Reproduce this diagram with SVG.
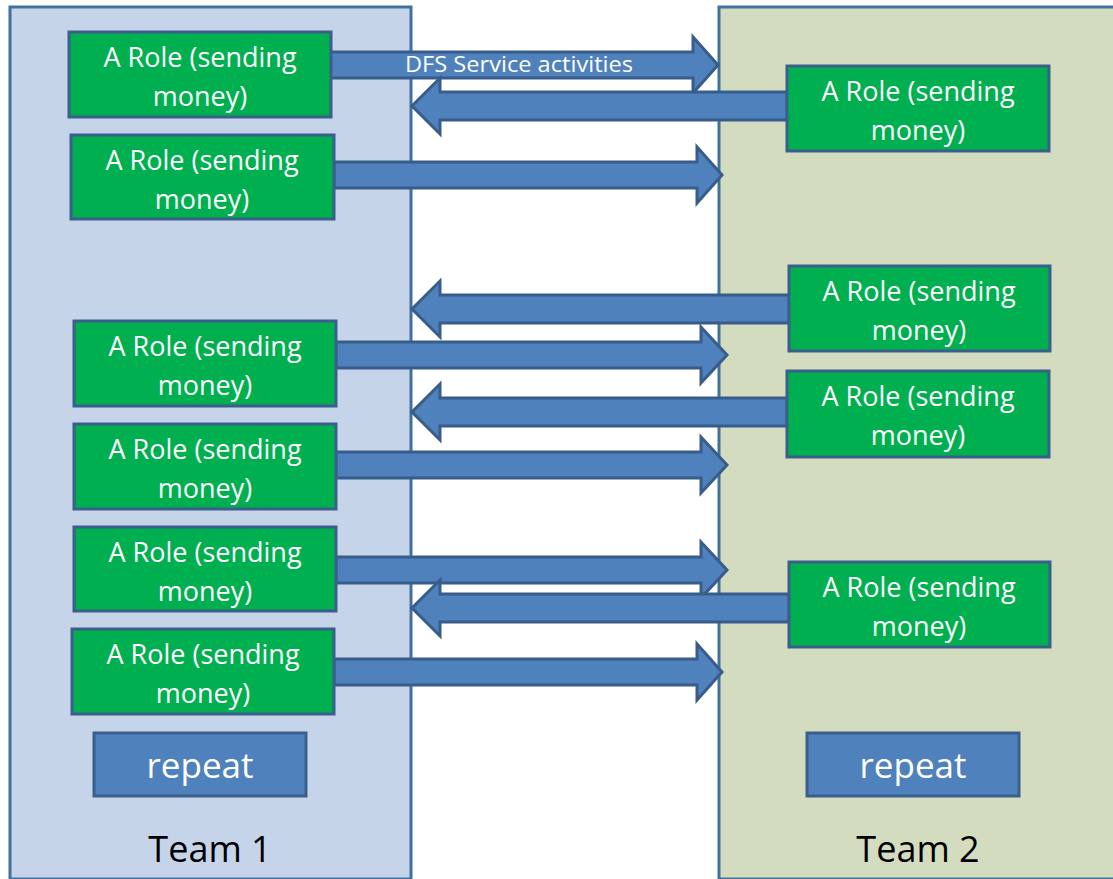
<svg xmlns="http://www.w3.org/2000/svg" width="1113" height="879" viewBox="0 0 1113 879">
<style>
.panel{stroke:#41719c;stroke-width:3}
.p1{fill:#c5d4e8}
.p2{fill:#d4dcbf}
.role rect{fill:#00b050;stroke:#3a5f8b;stroke-width:3}
.role text,.rep text{font-family:"Open Sans","Liberation Sans",sans-serif;fill:#ffffff;text-anchor:middle}
.role text{font-size:27px}
.rep rect{fill:#4f81bd;stroke:#3a5f8b;stroke-width:3}
.rep text{font-size:35px}
.team{font-family:"Open Sans","Liberation Sans",sans-serif;font-size:36px;fill:#000000;text-anchor:middle}
.arr{fill:#4f81bd;stroke:#385d8a;stroke-width:3;stroke-linejoin:miter}
.lbl{font-family:"Open Sans","Liberation Sans",sans-serif;font-size:21px;fill:#ffffff}
</style>
<rect width="1113" height="879" fill="#ffffff"/>
<g id="team1">
<rect class="panel p1" x="10" y="7" width="401" height="872"/>
<text class="team" x="210" y="862">Team 1</text>
</g>
<g id="team2">
<rect class="panel p2" x="719" y="7" width="400" height="872"/>
<text class="team" x="918" y="862">Team 2</text>
</g>
<g id="connectors">
<polygon class="arr" points="330,52 693,52 693,37 718,65 693,93 693,78 330,78"/>
<polygon class="arr" points="787,92 440,92 440,78 412,106 440,134 440,120 787,120"/>
<polygon class="arr" points="334,162 697,162 697,147 722,175 697,203 697,188 334,188"/>
<polygon class="arr" points="789,295 440,295 440,281 412,309 440,337 440,323 789,323"/>
<polygon class="arr" points="336,342 701,342 701,327 727,355 701,383 701,368 336,368"/>
<polygon class="arr" points="787,398 440,398 440,384 412,412 440,440 440,426 787,426"/>
<polygon class="arr" points="336,452 701,452 701,437 727,465 701,493 701,478 336,478"/>
<polygon class="arr" points="336,557 701,557 701,542 727,570 701,598 701,583 336,583"/>
<polygon class="arr" points="789,594 440,594 440,580 412,608 440,636 440,622 789,622"/>
<polygon class="arr" points="334,659 697,659 697,644 722,672 697,700 697,685 334,685"/>
<text class="lbl" x="405" y="72" textLength="228" lengthAdjust="spacingAndGlyphs">DFS Service activities</text>
</g>
<g id="l1" class="role"><rect x="69" y="32" width="262" height="85"/><text x="200" y="67">A Role (sending</text><text x="200" y="106">money)</text></g>
<g id="l2" class="role"><rect x="71" y="135" width="263" height="84"/><text x="202" y="170">A Role (sending</text><text x="202" y="209">money)</text></g>
<g id="l3" class="role"><rect x="74" y="321" width="262" height="85"/><text x="205" y="356">A Role (sending</text><text x="205" y="395">money)</text></g>
<g id="l4" class="role"><rect x="74" y="424" width="262" height="85"/><text x="205" y="459">A Role (sending</text><text x="205" y="498">money)</text></g>
<g id="l5" class="role"><rect x="74" y="527" width="262" height="84"/><text x="205" y="562">A Role (sending</text><text x="205" y="601">money)</text></g>
<g id="l6" class="role"><rect x="72" y="629" width="262" height="85"/><text x="203" y="664">A Role (sending</text><text x="203" y="703">money)</text></g>
<g id="r1" class="role"><rect x="787" y="66" width="262" height="85"/><text x="918" y="101">A Role (sending</text><text x="918" y="140">money)</text></g>
<g id="r2" class="role"><rect x="789" y="266" width="261" height="85"/><text x="919" y="301">A Role (sending</text><text x="919" y="340">money)</text></g>
<g id="r3" class="role"><rect x="787" y="371" width="262" height="86"/><text x="918" y="406">A Role (sending</text><text x="918" y="445">money)</text></g>
<g id="r4" class="role"><rect x="789" y="562" width="261" height="85"/><text x="919" y="597">A Role (sending</text><text x="919" y="636">money)</text></g>
<g id="rep1" class="rep"><rect x="94" y="733" width="212" height="63"/><text x="200" y="778">repeat</text></g>
<g id="rep2" class="rep"><rect x="807" y="733" width="212" height="63"/><text x="913" y="778">repeat</text></g>
</svg>
